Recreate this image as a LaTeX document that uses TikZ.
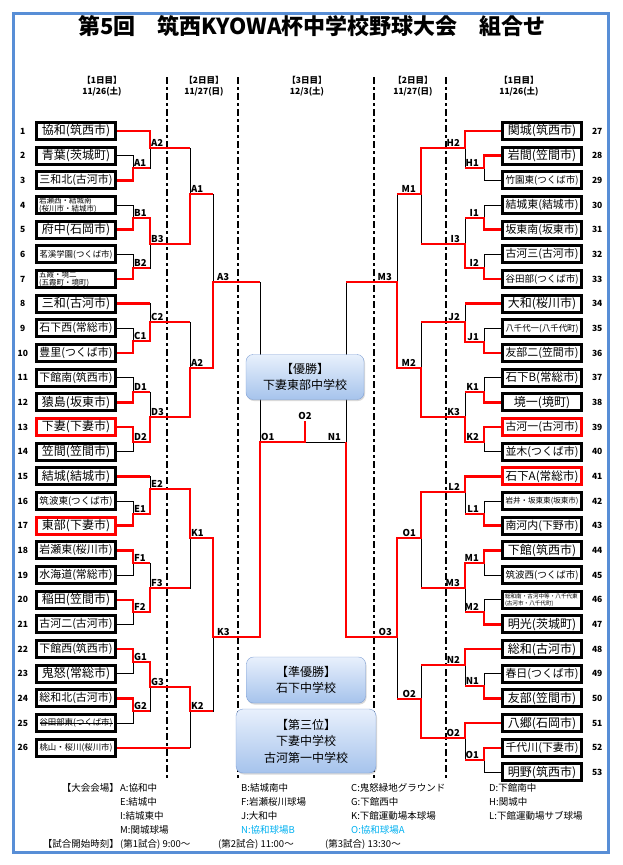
\documentclass[tikz,border=0pt]{standalone}
\usepackage{fontspec}
\setmainfont{Noto Sans CJK JP}
\usepackage{graphicx}
\usepackage{xcolor}
\usetikzlibrary{shadows}

\definecolor{frameblue}{RGB}{88,142,214}
\definecolor{boxtop}{RGB}{232,240,252}
\definecolor{boxbot}{RGB}{166,195,236}
\definecolor{boxline}{RGB}{125,158,212}
\definecolor{venuecyan}{RGB}{0,176,240}

\newsavebox{\tmbox}
\newsavebox{\stbox}
\newcommand{\fitname}[1]{\sbox{\tmbox}{#1}\ifdim\wd\tmbox>73pt\resizebox{73pt}{!}{\usebox{\tmbox}}\else\usebox{\tmbox}\fi}
\newcommand{\strikename}[1]{\sbox{\stbox}{#1}\rlap{\usebox{\stbox}}\rule[0.32em]{\wd\stbox}{0.9pt}}

\begin{document}
\begin{tikzpicture}[x=1pt,y=-1pt]
          \tikzset{
            team/.style = { rectangle, draw, line width=3pt, fill=white,
              minimum width=79pt, minimum height=17pt, inner sep=0pt,
              font=\fontsize{12}{14}\selectfont },
            num/.style = { font=\fontsize{8.5}{10}\selectfont\bfseries,
              minimum width=16pt, inner sep=0pt },
            lteam/.style = { team, label={[num,label distance=4pt]left:#1} },
            rteam/.style = { team, label={[num,label distance=6pt]right:#1} },
            twoline/.style = { text width=74pt, align=left,
              font=\fontsize{7.5}{8.5}\selectfont },
            mlab/.style = { font=\fontsize{9.5}{10}\selectfont\bfseries, inner sep=1pt },
            labr/.style = { label={[mlab]above right:#1} },
            labr3/.style = { label={[mlab,xshift=3pt]above right:#1} },
            labl/.style = { label={[mlab,xshift=-4pt]above left:#1} },
            lose/.style = { line width=0.8pt, black },
            win/.style = { line width=2.6pt, red },
            day/.style = { font=\fontsize{8.5}{10.5}\selectfont\bfseries, align=center },
            daysep/.style = { line width=2.6pt, dash pattern=on 7pt off 3pt on 3pt off 3pt },
            result/.style = { rectangle, rounded corners=7pt, draw=boxline,
              top color=boxtop, bottom color=boxbot,
              drop shadow={opacity=0.3, shadow xshift=1pt, shadow yshift=-1.5pt},
              align=center, inner sep=0pt, font=\fontsize{12}{16.5}\selectfont },
            venue/.style = { anchor=west, inner sep=0pt, font=\fontsize{9.5}{11}\selectfont } }

          \useasboundingbox (0,0) rectangle (623,865);
          \draw[frameblue, line width=3pt] (13,13) rectangle (608,852);
          \node[font=\fontsize{22}{24}\selectfont\bfseries] (title) at (312,26)
            {第5回\quad 筑西KYOWA杯中学校野球大会\quad 組合せ};

          % days
          \node[day] (dayL1) at (102,86) {【1日目】\\11/26(土)};
          \node[day] (dayL2) at (204,86) {【2日目】\\11/27(日)};
          \node[day] (dayC3) at (307,86) {【3日目】\\12/3(土)};
          \node[day] (dayR2) at (413,86) {【2日目】\\11/27(日)};
          \node[day] (dayR1) at (519,86) {【1日目】\\11/26(土)};
          \draw[daysep] (167,77) -- (167,779);
          \draw[daysep] (238,77) -- (238,779);
          \draw[daysep] (374,77) -- (374,779);
          \draw[daysep] (446,77) -- (446,779);

          % left teams
          \node[lteam=1] (t1) at (76,131.0) {\fitname{協和(筑西市)}};
          \node[lteam=2] (t2) at (76,155.7) {\fitname{青葉(茨城町)}};
          \node[lteam=3] (t3) at (76,180.3) {\fitname{三和北(古河市)}};
          \node[lteam=4, twoline] (t4) at (76,205.0) {岩瀬西・結城南\\(桜川市・結城市)};
          \node[lteam=5] (t5) at (76,229.7) {\fitname{府中(石岡市)}};
          \node[lteam=6] (t6) at (76,254.4) {\fitname{茗溪学園(つくば市)}};
          \node[lteam=7, twoline] (t7) at (76,279.0) {五霞・境二\\(五霞町・境町)};
          \node[lteam=8] (t8) at (76,303.7) {\fitname{三和(古河市)}};
          \node[lteam=9] (t9) at (76,328.4) {\fitname{石下西(常総市)}};
          \node[lteam=10] (t10) at (76,353.0) {\fitname{豊里(つくば市)}};
          \node[lteam=11] (t11) at (76,377.7) {\fitname{下館南(筑西市)}};
          \node[lteam=12] (t12) at (76,402.4) {\fitname{猿島(坂東市)}};
          \node[lteam=13, draw=red] (t13) at (76,427.0) {\fitname{下妻(下妻市)}};
          \node[lteam=14] (t14) at (76,451.7) {\fitname{笠間(笠間市)}};
          \node[lteam=15] (t15) at (76,476.4) {\fitname{結城(結城市)}};
          \node[lteam=16] (t16) at (76,501.1) {\fitname{筑波東(つくば市)}};
          \node[lteam=17, draw=red] (t17) at (76,525.7) {\fitname{東部(下妻市)}};
          \node[lteam=18] (t18) at (76,550.4) {\fitname{岩瀬東(桜川市)}};
          \node[lteam=19] (t19) at (76,575.1) {\fitname{水海道(常総市)}};
          \node[lteam=20] (t20) at (76,599.8) {\fitname{稲田(笠間市)}};
          \node[lteam=21] (t21) at (76,624.4) {\fitname{古河二(古河市)}};
          \node[lteam=22] (t22) at (76,649.1) {\fitname{下館西(筑西市)}};
          \node[lteam=23] (t23) at (76,673.7) {\fitname{鬼怒(常総市)}};
          \node[lteam=24] (t24) at (76,698.4) {\fitname{総和北(古河市)}};
          \node[lteam=25] (t25) at (76,723.1) {\fitname{\strikename{谷田部東(つくば市)}}};
          \node[lteam=26] (t26) at (76,747.8) {\fitname{桃山・桜川(桜川市)}};

          % right teams
          \node[rteam=27] (t27) at (542,131.0) {\fitname{関城(筑西市)}};
          \node[rteam=28] (t28) at (542,155.7) {\fitname{岩間(笠間市)}};
          \node[rteam=29] (t29) at (542,180.3) {\fitname{竹園東(つくば市)}};
          \node[rteam=30] (t30) at (542,205.0) {\fitname{結城東(結城市)}};
          \node[rteam=31] (t31) at (542,229.7) {\fitname{坂東南(坂東市)}};
          \node[rteam=32] (t32) at (542,254.4) {\fitname{古河三(古河市)}};
          \node[rteam=33] (t33) at (542,279.0) {\fitname{谷田部(つくば市)}};
          \node[rteam=34] (t34) at (542,303.7) {\fitname{大和(桜川市)}};
          \node[rteam=35] (t35) at (542,328.4) {\fitname{八千代一(八千代町)}};
          \node[rteam=36] (t36) at (542,353.0) {\fitname{友部二(笠間市)}};
          \node[rteam=37] (t37) at (542,377.7) {\fitname{石下B(常総市)}};
          \node[rteam=38] (t38) at (542,402.4) {\fitname{境一(境町)}};
          \node[rteam=39, draw=red] (t39) at (542,427.0) {\fitname{古河一(古河市)}};
          \node[rteam=40] (t40) at (542,451.7) {\fitname{並木(つくば市)}};
          \node[rteam=41, draw=red] (t41) at (542,476.4) {\fitname{石下A(常総市)}};
          \node[rteam=42] (t42) at (542,501.1) {\fitname{岩井・坂東東(坂東市)}};
          \node[rteam=43] (t43) at (542,525.7) {\fitname{南河内(下野市)}};
          \node[rteam=44] (t44) at (542,550.4) {\fitname{下館(筑西市)}};
          \node[rteam=45] (t45) at (542,575.1) {\fitname{筑波西(つくば市)}};
          \node[rteam=46, twoline, font=\fontsize{5.6}{7}\selectfont] (t46) at (542,599.8) {総和南・古河中等・八千代東\\(古河市・八千代町)};
          \node[rteam=47] (t47) at (542,624.4) {\fitname{明光(茨城町)}};
          \node[rteam=48] (t48) at (542,649.1) {\fitname{総和(古河市)}};
          \node[rteam=49] (t49) at (542,673.7) {\fitname{春日(つくば市)}};
          \node[rteam=50] (t50) at (542,698.4) {\fitname{友部(笠間市)}};
          \node[rteam=51] (t51) at (542,723.1) {\fitname{八郷(石岡市)}};
          \node[rteam=52] (t52) at (542,747.8) {\fitname{千代川(下妻市)}};
          \node[rteam=53] (t53) at (542,772.4) {\fitname{明野(筑西市)}};

          % match points, left
          \coordinate[labr=A1] (LA1) at (133,168);
          \coordinate[labr=A2] (LA2) at (150,148);
          \coordinate[labr=B1] (LB1) at (133,218);
          \coordinate[labr=B2] (LB2) at (133,268);
          \coordinate[labr=B3] (LB3) at (150,244);
          \coordinate[labr=A1] (LA1b) at (190,194);
          \coordinate[labr=C1] (LC1) at (133,341);
          \coordinate[labr=C2] (LC2) at (150,322);
          \coordinate[labr=D1] (LD1) at (133,392);
          \coordinate[labr=D2] (LD2) at (133,442);
          \coordinate[labr=D3] (LD3) at (150,417);
          \coordinate[labr=A2] (LA2b) at (190,368);
          \coordinate[labr3=A3] (LA3) at (213,282);
          \coordinate[labr=E1] (LE1) at (133,514);
          \coordinate[labr=E2] (LE2) at (150,489);
          \coordinate[labr=F1] (LF1) at (133,563);
          \coordinate[labr=F2] (LF2) at (133,612);
          \coordinate[labr=F3] (LF3) at (150,588);
          \coordinate[labr=K1] (LK1) at (190,538);
          \coordinate[labr=G1] (LG1) at (133,662);
          \coordinate[labr=G2] (LG2) at (133,711);
          \coordinate[labr=G3] (LG3) at (150,687);
          \coordinate[labr=K2] (LK2) at (190,711);
          \coordinate[labr3=K3] (LK3) at (213,637);
          % match points, final
          \coordinate[labr=O1] (SO1) at (260,442);
          \coordinate (FIN) at (305,442);
          \coordinate[label={[mlab]above:O2}] (FINtop) at (305,421);
          \coordinate[labl=N1] (SN1) at (346,442);
          % match points, right
          \coordinate[labl=H1] (RH1) at (484,168);
          \coordinate[labl=H2] (RH2) at (465,148);
          \coordinate[labl=I1] (RI1) at (484,218);
          \coordinate[labl=I2] (RI2) at (484,268);
          \coordinate[labl=I3] (RI3) at (465,244);
          \coordinate[labl=M1] (RM1b) at (421,194);
          \coordinate[labl=J1] (RJ1) at (484,342);
          \coordinate[labl=J2] (RJ2) at (465,322);
          \coordinate[labl=K1] (RK1) at (484,392);
          \coordinate[labl=K2] (RK2) at (484,442);
          \coordinate[labl=K3] (RK3) at (465,417);
          \coordinate[labl=M2] (RM2b) at (421,368);
          \coordinate[labl=M3] (RM3b) at (397,282);
          \coordinate[labl=L1] (RL1) at (484,514);
          \coordinate[labl=L2] (RL2) at (465,492);
          \coordinate[labl=M1] (RM1) at (484,563);
          \coordinate[labl=M2] (RM2) at (484,612);
          \coordinate[labl=M3] (RM3) at (465,588);
          \coordinate[labl=O1] (RO1b) at (421,538);
          \coordinate[labl=N1] (RN1) at (484,686);
          \coordinate[labl=N2] (RN2) at (465,665);
          \coordinate[labl=O1] (RO1) at (484,760);
          \coordinate[labl=O2] (RO2) at (465,738);
          \coordinate[labl=O2] (RO2b) at (421,699);
          \coordinate[labl=O3] (RO3b) at (397,637);

          % bracket, left
          \draw[lose] (t2.east) -| (LA1) (t3.east) -| (LA1);
          \draw[lose] (t1.east) -| (LA2) (LA1) -| (LA2);
          \draw[lose] (t4.east) -| (LB1) (t5.east) -| (LB1);
          \draw[lose] (t6.east) -| (LB2) (t7.east) -| (LB2);
          \draw[lose] (LB1) -| (LB3) (LB2) -| (LB3);
          \draw[lose] (LA2) -| (LA1b) (LB3) -| (LA1b);
          \draw[lose] (t9.east) -| (LC1) (t10.east) -| (LC1);
          \draw[lose] (t8.east) -| (LC2) (LC1) -| (LC2);
          \draw[lose] (t11.east) -| (LD1) (t12.east) -| (LD1);
          \draw[lose] (t13.east) -| (LD2) (t14.east) -| (LD2);
          \draw[lose] (LD1) -| (LD3) (LD2) -| (LD3);
          \draw[lose] (LC2) -| (LA2b) (LD3) -| (LA2b);
          \draw[lose] (LA1b) -| (LA3) (LA2b) -| (LA3);
          \draw[lose] (t16.east) -| (LE1) (t17.east) -| (LE1);
          \draw[lose] (t15.east) -| (LE2) (LE1) -| (LE2);
          \draw[lose] (t18.east) -| (LF1) (t19.east) -| (LF1);
          \draw[lose] (t20.east) -| (LF2) (t21.east) -| (LF2);
          \draw[lose] (LF1) -| (LF3) (LF2) -| (LF3);
          \draw[lose] (LE2) -| (LK1) (LF3) -| (LK1);
          \draw[lose] (t22.east) -| (LG1) (t23.east) -| (LG1);
          \draw[lose] (t24.east) -| (LG2) (t25.east) -| (LG2);
          \draw[lose] (LG1) -| (LG3) (LG2) -| (LG3);
          \draw[lose] (LG3) -| (LK2) (t26.east) -| (LK2);
          \draw[lose] (LK1) -| (LK3) (LK2) -| (LK3);
          \draw[lose] (LA3) -| (SO1) (LK3) -| (SO1);
          \draw[lose] (SO1) -- (SN1);
          % bracket, right
          \draw[lose] (t28.west) -| (RH1) (t29.west) -| (RH1);
          \draw[lose] (t27.west) -| (RH2) (RH1) -| (RH2);
          \draw[lose] (t30.west) -| (RI1) (t31.west) -| (RI1);
          \draw[lose] (t32.west) -| (RI2) (t33.west) -| (RI2);
          \draw[lose] (RI1) -| (RI3) (RI2) -| (RI3);
          \draw[lose] (RH2) -| (RM1b) (RI3) -| (RM1b);
          \draw[lose] (t35.west) -| (RJ1) (t36.west) -| (RJ1);
          \draw[lose] (t34.west) -| (RJ2) (RJ1) -| (RJ2);
          \draw[lose] (t37.west) -| (RK1) (t38.west) -| (RK1);
          \draw[lose] (t39.west) -| (RK2) (t40.west) -| (RK2);
          \draw[lose] (RK1) -| (RK3) (RK2) -| (RK3);
          \draw[lose] (RJ2) -| (RM2b) (RK3) -| (RM2b);
          \draw[lose] (RM1b) -| (RM3b) (RM2b) -| (RM3b);
          \draw[lose] (t42.west) -| (RL1) (t43.west) -| (RL1);
          \draw[lose] (t41.west) -| (RL2) (RL1) -| (RL2);
          \draw[lose] (t44.west) -| (RM1) (t45.west) -| (RM1);
          \draw[lose] (t46.west) -| (RM2) (t47.west) -| (RM2);
          \draw[lose] (RM1) -| (RM3) (RM2) -| (RM3);
          \draw[lose] (RL2) -| (RO1b) (RM3) -| (RO1b);
          \draw[lose] (t49.west) -| (RN1) (t50.west) -| (RN1);
          \draw[lose] (t48.west) -| (RN2) (RN1) -| (RN2);
          \draw[lose] (t52.west) -| (RO1) (t53.west) -| (RO1);
          \draw[lose] (t51.west) -| (RO2) (RO1) -| (RO2);
          \draw[lose] (RN2) -| (RO2b) (RO2) -| (RO2b);
          \draw[lose] (RO1b) -| (RO3b) (RO2b) -| (RO3b);
          \draw[lose] (RM3b) -| (SN1) (RO3b) -| (SN1);

          % winners, left
          \draw[win] (t1.east) -| (LA2) -- (LA2 -| LA1b);
          \draw[win] (t3.east) -| (LA1) -- (LA1 -| LA2);
          \draw[win] (t5.east) -| (LB1) -| (LB3) -| (LA1b) -- (LA1b -| LA3);
          \draw[win] (t7.east) -| (LB2) -- (LB2 -| LB3);
          \draw[win] (t8.east) -- (t8.east -| LC2);
          \draw[win] (t10.east) -| (LC1) -| (LC2) -- (LC2 -| LA2b);
          \draw[win] (t12.east) -| (LD1) -- (LD1 -| LD3);
          \draw[win] (t13.east) -| (LD2) -| (LD3) -| (LA2b) -| (LA3) -- (LA3 -| SO1);
          \draw[win] (t15.east) -- (t15.east -| LE2);
          \draw[win] (t17.east) -| (LE1) -| (LE2) -| (LK1) -| (LK3) -| (SO1) -- (FIN) -- (FINtop);
          \draw[win] (t18.east) -| (LF1) -- (LF1 -| LF3);
          \draw[win] (t20.east) -| (LF2) -| (LF3) -- (LF3 -| LK1);
          \draw[win] (t22.east) -| (LG1) -| (LG3) -| (LK2) -- (LK2 -| LK3);
          \draw[win] (t24.east) -| (LG2) -- (LG2 -| LG3);
          \draw[win] (t26.east) -- (t26.east -| LK2);
          % winners, right
          \draw[win] (t27.west) -| (RH2) -| (RM1b) -- (RM1b -| RM3b);
          \draw[win] (t28.west) -| (RH1) -- (RH1 -| RH2);
          \draw[win] (t31.west) -| (RI1) -- (RI1 -| RI3);
          \draw[win] (t33.west) -| (RI2) -| (RI3) -- (RI3 -| RM1b);
          \draw[win] (t34.west) -- (t34.west -| RJ2);
          \draw[win] (t36.west) -| (RJ1) -| (RJ2) -- (RJ2 -| RM2b);
          \draw[win] (t38.west) -| (RK1) -- (RK1 -| RK3);
          \draw[win] (t39.west) -| (RK2) -| (RK3) -| (RM2b) -| (RM3b) -- (RM3b -| SN1);
          \draw[win] (t41.west) -| (RL2) -| (RO1b) -| (RO3b) -| (SN1);
          \draw[win] (t43.west) -| (RL1) -- (RL1 -| RL2);
          \draw[win] (t44.west) -| (RM1) -| (RM3) -- (RM3 -| RO1b);
          \draw[win] (t47.west) -| (RM2) -- (RM2 -| RM3);
          \draw[win] (t48.west) -| (RN2) -- (RN2 -| RO2b);
          \draw[win] (t50.west) -| (RN1) -- (RN1 -| RN2);
          \draw[win] (t51.west) -| (RO2) -| (RO2b) -- (RO2b -| RO3b);
          \draw[win] (t52.west) -| (RO1) -- (RO1 -| RO2);

          % results
          \node[result, minimum width=118pt, minimum height=45pt] (champ) at (305,377) {【優勝】\\下妻東部中学校};
          \node[result, minimum width=119pt, minimum height=46pt] (second) at (306,680) {【準優勝】\\石下中学校};
          \node[result, minimum width=140pt, minimum height=64pt] (third) at (306,741) {【第三位】\\下妻中学校\\古河第一中学校};

          % venues and times
          \node[venue, anchor=east] (hdVenue) at (119,788) {【大会会場】};
          \node[venue] (vA) at (120,788) {A:協和中};
          \node[venue] (vB) at (241,788) {B:結城南中};
          \node[venue] (vC) at (351,788) {C:鬼怒緑地グラウンド};
          \node[venue] (vD) at (489,788) {D:下館南中};
          \node[venue] (vE) at (120,802) {E:結城中};
          \node[venue] (vF) at (241,802) {F:岩瀬桜川球場};
          \node[venue] (vG) at (351,802) {G:下館西中};
          \node[venue] (vH) at (489,802) {H:関城中};
          \node[venue] (vI) at (120,816) {I:結城東中};
          \node[venue] (vJ) at (241,816) {J:大和中};
          \node[venue] (vK) at (351,816) {K:下館運動場本球場};
          \node[venue] (vL) at (489,816) {L:下館運動場サブ球場};
          \node[venue] (vM) at (120,830) {M:関城球場};
          \node[venue, text=venuecyan] (vN) at (241,830) {N:協和球場B};
          \node[venue, text=venuecyan] (vO) at (351,830) {O:協和球場A};
          \node[venue, anchor=east] (hdTime) at (119,844) {【試合開始時刻】};
          \node[venue] (tm1) at (120,844) {(第1試合) 9:00～};
          \node[venue] (tm2) at (218,844) {(第2試合) 11:00～};
          \node[venue] (tm3) at (325,844) {(第3試合) 13:30～};
\end{tikzpicture}
\end{document}
